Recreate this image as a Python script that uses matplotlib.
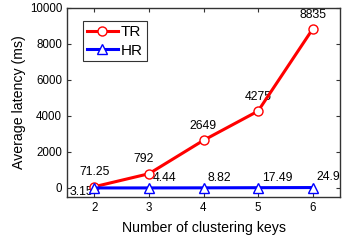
import matplotlib
matplotlib.use("Agg")
import matplotlib.pyplot as plt

keys = [2, 3, 4, 5, 6]
tr_latency = [71.25, 792, 2649, 4275, 8835]
hr_latency = [3.15, 4.44, 8.82, 17.49, 24.9]
tr_labels = ["71.25", "792", "2649", "4275", "8835"]
hr_labels = ["3.15", "4.44", "8.82", "17.49", "24.9"]

plt.rcParams["font.family"] = ["Liberation Sans", "DejaVu Sans"]

fig = plt.figure(figsize=(3.42, 2.42), dpi=100)
ax = fig.add_axes([67 / 342, 1 - 197 / 242, (340 - 67) / 342, (197 - 8) / 242])

ax.plot(keys, tr_latency, color="#ff0000", lw=2.2, marker="o", ms=6.5,
        mfc="white", mec="#ff0000", mew=1.0, label="TR", zorder=3)
ax.plot(keys, hr_latency, color="#0000ff", lw=2.2, marker="^", ms=7,
        mfc="white", mec="#0000ff", mew=1.0, label="HR", zorder=3)

for i, (x, y) in enumerate(zip(keys, tr_latency)):
    dx = -4 if i == 1 else 0
    ax.annotate(tr_labels[i], (x, y), xytext=(dx, 6), textcoords="offset points",
                ha="center", va="bottom", fontsize=8.8, zorder=2)
for i, (x, y) in enumerate(zip(keys, hr_latency)):
    if i == 0:
        ax.annotate(hr_labels[i], (x, y), xytext=(-1, -3), textcoords="offset points",
                    ha="right", va="center", fontsize=8.8, zorder=2)
    else:
        ax.annotate(hr_labels[i], (x, y), xytext=(3, 3), textcoords="offset points",
                    ha="left", va="bottom", fontsize=8.8, zorder=2)

ax.set_xlim(1.5, 6.5)
ax.set_ylim(-500, 10000)
ax.set_xticks(keys)
ax.set_yticks([0, 2000, 4000, 6000, 8000, 10000])
ax.tick_params(direction="in", top=True, right=True, labelsize=8.3, length=3,
               width=0.8, color="#333333")
for s in ax.spines.values():
    s.set_linewidth(1.0)
    s.set_color("#333333")

ax.set_xlabel("Number of clustering keys", fontsize=10.2, labelpad=5)
ax.set_ylabel("Average latency (ms)", fontsize=10.2, labelpad=3)

leg = ax.legend(loc="upper left", bbox_to_anchor=(0.06, 0.93), fontsize=11,
                frameon=True, fancybox=False, edgecolor="black",
                handlelength=2.0, handletextpad=0.2, borderpad=0.25,
                labelspacing=0.3, borderaxespad=0)
leg.get_frame().set_linewidth(0.8)

fig.savefig("out.png", dpi=100)
